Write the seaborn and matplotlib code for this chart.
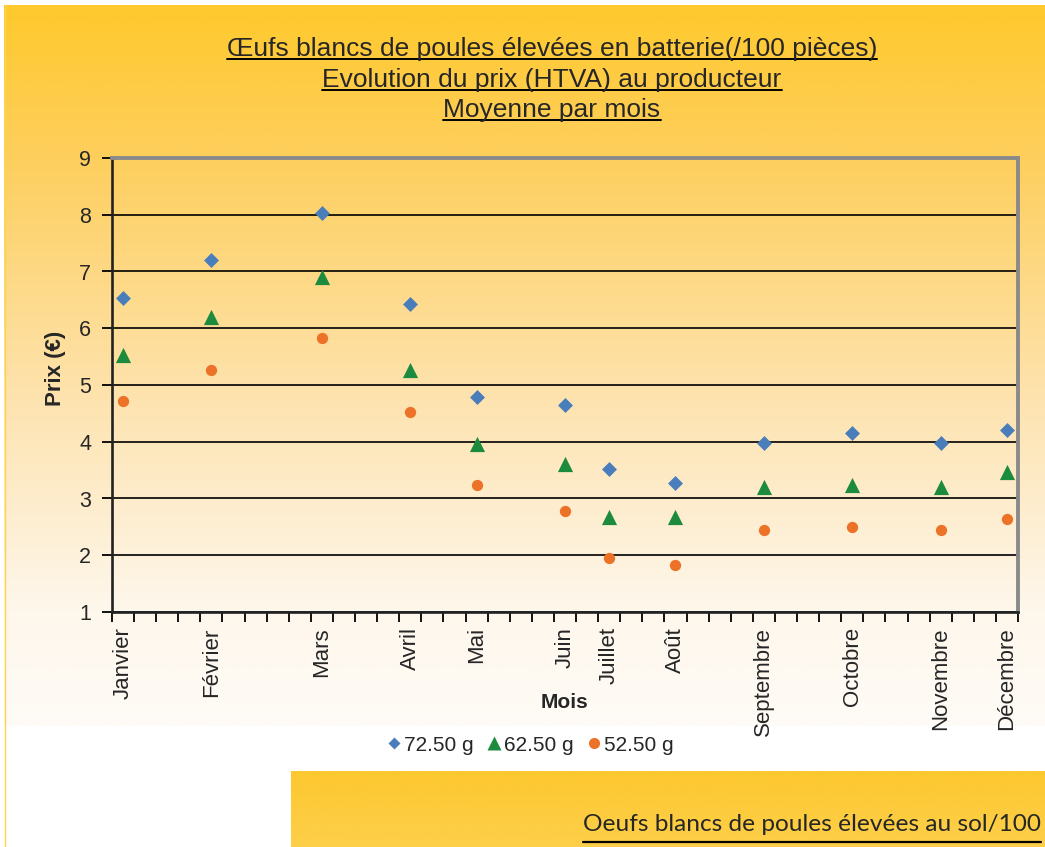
import numpy as np
import pandas as pd
import matplotlib
matplotlib.use("Agg")
import matplotlib.pyplot as plt
import seaborn as sns
from matplotlib.lines import Line2D

# values
mois = ["Janvier", "Février", "Mars", "Avril", "Mai", "Juin", "Juillet",
        "Août", "Septembre", "Octobre", "Novembre", "Décembre"]
semaine = [0, 4, 9, 13, 16, 20, 22, 25, 29, 33, 37, 40]  # slot on the weekly axis
prix_72 = [6.53, 7.20, 8.03, 6.43, 4.79, 4.65, 3.52, 3.28, 3.97, 4.15, 3.97, 4.21]
prix_62 = [5.53, 6.20, 6.91, 5.26, 3.96, 3.61, 2.68, 2.67, 3.20, 3.24, 3.20, 3.47]
prix_52 = [4.72, 5.26, 5.82, 4.53, 3.24, 2.78, 1.95, 1.82, 2.45, 2.49, 2.45, 2.63]
calibres = ["72.50 g", "62.50 g", "52.50 g"]
y_ticks = [1, 2, 3, 4, 5, 6, 7, 8, 9]

titre = ["Œufs blancs de poules élevées en batterie(/100 pièces)",
         "Evolution du prix (HTVA) au producteur",
         "Moyenne par mois"]
titre_bas = "Oeufs blancs de poules élevées au sol/100"

df = pd.concat([
    pd.DataFrame({"semaine": semaine, "prix": p, "calibre": c})
    for c, p in zip(calibres, [prix_72, prix_62, prix_52])
])

sns.set_style("white")
plt.rcParams["font.family"] = ["Liberation Sans", "DejaVu Sans"]

W, H = 1045, 847
fig = plt.figure(figsize=(W / 100, H / 100), dpi=100)


def px_axes(x0, y0, x1, y1):
    # axes placed with pixel coords measured from the top-left corner
    return fig.add_axes([x0 / W, 1 - y1 / H, (x1 - x0) / W, (y1 - y0) / H])


def gradient(ax, stops_y, stops_rgb, y0, y1):
    ys = np.linspace(y0, y1, 300)
    rgb = np.stack([np.interp(ys, stops_y, [c[i] for c in stops_rgb]) for i in range(3)], axis=-1)
    ax.imshow(rgb[:, None, :] / 255.0, aspect="auto", interpolation="bilinear")
    ax.axis("off")


# orange gradient behind the chart
bg = px_axes(4, 5, W, 726)
gradient(bg, [5, 160, 400, 612, 726],
         [(254, 201, 44), (254, 207, 94), (253, 227, 175), (254, 247, 236), (254, 251, 246)], 5, 726)

# yellow block at the bottom
bg2 = px_axes(291, 771, W, H)
gradient(bg2, [771, 847], [(253, 200, 47), (253, 207, 74)], 771, 847)

fig.add_artist(Line2D([4.5 / W, 4.5 / W], [0, 1 - 5 / H], transform=fig.transFigure,
                      color="#FFD44A", lw=1.0))

ax = px_axes(112, 158, 1018, 612)
ax.set_facecolor("none")

styles = {
    "72.50 g": ("D", "#4A7EBB", 58),
    "62.50 g": ("^", "#1D8B3D", 120),
    "52.50 g": ("o", "#EC7228", 66),
}
for cal, (m, c, s) in styles.items():
    sns.scatterplot(data=df[df["calibre"] == cal], x="semaine", y="prix", marker=m,
                    color=c, s=s, linewidth=0, ax=ax, zorder=3, legend=False)

ax.set_xlim(-0.5, 40.5)
ax.set_ylim(1, 9)
ax.set_yticks(y_ticks)
ax.set_xticks(semaine)
ax.set_xticklabels(mois, rotation=90, fontsize=16)
ax.set_xticks(np.arange(-0.5, 41, 1), minor=True)
ax.tick_params(axis="x", which="major", length=0, pad=11)
ax.tick_params(axis="x", which="minor", length=7, width=1.3, color="black", direction="out", bottom=True)
ax.tick_params(axis="y", length=7, width=1.3, color="black", direction="out", left=True,
               labelsize=15.5, pad=8)
ax.set_xlabel("")
ax.set_ylabel("")

ax.yaxis.grid(True, color="black", lw=1.2)
ax.set_axisbelow(True)
for side in ["top", "right"]:
    ax.spines[side].set_color("#8A8A8A")
    ax.spines[side].set_linewidth(2.8)
for side in ["left", "bottom"]:
    ax.spines[side].set_color("#222222")
    ax.spines[side].set_linewidth(1.9)

fig.text(55 / W, 1 - 368 / H, "Prix (€)", rotation=90, ha="center", va="center",
         fontsize=16, fontweight="bold")
fig.text(564 / W, 1 - 703 / H, "Mois", ha="center", va="center",
         fontsize=15, fontweight="bold")

# legend
handles = [Line2D([], [], ls="none", marker=styles[c][0], color=styles[c][1], mec="none",
                  ms=ms) for c, ms in zip(calibres, [6.5, 10.5, 8])]
fig.legend(handles, calibres, loc="center", bbox_to_anchor=(529 / W, 1 - 745 / H), ncol=3,
           frameon=True, facecolor="white", edgecolor="none", fancybox=False, fontsize=15,
           handletextpad=0.05, columnspacing=0.5, handlelength=0.9, borderpad=0.4)

# titles, underlined
under = []
for line, yb in zip(titre, [56, 87, 117]):
    t = fig.text(552 / W, 1 - yb / H, line, ha="center", va="baseline", fontsize=19)
    under.append((t, yb + 3.5, 1.4))
t = fig.text(583 / W, 1 - 831 / H, titre_bas, ha="left", va="baseline", fontsize=17.6,
             family=["Lato", "DejaVu Sans"])
under.append((t, 841.5, 1.6))

fig.canvas.draw()
r = fig.canvas.get_renderer()
for t, yl, lw in under:
    bb = t.get_window_extent(r)
    fig.add_artist(Line2D([bb.x0 / W, bb.x1 / W], [1 - yl / H, 1 - yl / H],
                          transform=fig.transFigure, color="black", lw=lw))

fig.savefig("out.png", dpi=100, facecolor="white")
